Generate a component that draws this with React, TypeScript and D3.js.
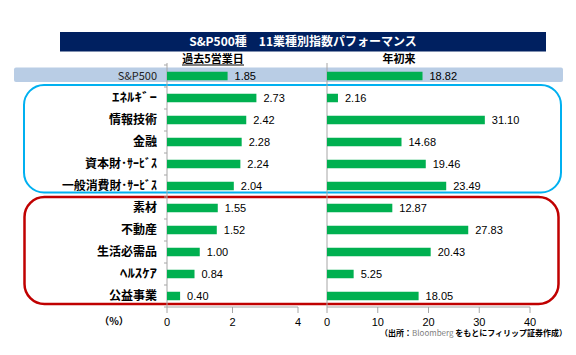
import React from "react";
import * as d3 from "d3";

const categories = ["S&P500", "ｴﾈﾙｷﾞｰ", "情報技術", "金融", "資本財･ｻｰﾋﾞｽ", "一般消費財･ｻｰﾋﾞｽ", "素材", "不動産", "生活必需品", "ﾍﾙｽｹｱ", "公益事業"];
const weekValues = [1.85, 2.73, 2.42, 2.28, 2.24, 2.04, 1.55, 1.52, 1.0, 0.84, 0.4];
const ytdValues = [18.82, 2.16, 31.1, 14.68, 19.46, 23.49, 12.87, 27.83, 20.43, 5.25, 18.05];
const weekTicks = [0, 2, 4];
const ytdTicks = [0, 10, 20, 30, 40];

// rendered widths for labels using half-width katakana (layout only)
const labelWidths: Record<string, number> = {
  "ｴﾈﾙｷﾞｰ": 45,
  "資本財･ｻｰﾋﾞｽ": 72,
  "一般消費財･ｻｰﾋﾞｽ": 95,
  "ﾍﾙｽｹｱ": 37,
};

const W = 576, H = 355;
const JP = "'Noto Sans CJK JP', 'Noto Sans', sans-serif";
const NUM = "'Liberation Sans', Arial, sans-serif";
const GREEN = "#00b050";
const AXIS = "#a6a6a6";

export default function App() {
  const y = d3.scaleBand<string>().domain(categories).range([65, 307]);
  const xL = d3.scaleLinear().domain([0, 4]).range([167, 298]);
  const xR = d3.scaleLinear().domain([0, 40]).range([327, 530]);
  const barH = 8.5;
  const bandBounds = categories.map((c) => y(c)!).concat([307]);

  return (
    <svg width={W} height={H} style={{ position: "absolute", left: 0, top: 0, background: "#fff" }}>
      {/* title */}
      <rect x={60} y={32} width={486} height={19.5} fill="#002060" />
      <text x={303} y={46} textAnchor="middle" fill="#fff" fontFamily={JP} fontWeight="bold" fontSize={12}>
        S&amp;P500種　11業種別指数パフォーマンス
      </text>

      {/* headers */}
      <text x={213} y={63} textAnchor="middle" fontFamily={JP} fontWeight="bold" fontSize={11} fill="#000">
        過去5営業日
      </text>
      <line x1={182} x2={244} y1={65} y2={65} stroke="#000" strokeWidth={1} />
      <text x={399} y={63} textAnchor="middle" fontFamily={JP} fontWeight="bold" fontSize={11} fill="#000">
        年初来
      </text>

      {/* S&P500 background */}
      <rect x={14} y={67.5} width={549} height={14.5} rx={2} fill="#b9cde5" />

      {/* group boxes */}
      <rect x={24} y={85} width={537} height={107.5} rx={20} fill="none" stroke="#00b0f0" strokeWidth={2} />
      <rect x={24.5} y={197} width={534} height={107} rx={20} fill="none" stroke="#c00000" strokeWidth={2.5} />

      {/* axes */}
      <line x1={xL(0)} x2={xL(0)} y1={63} y2={307} stroke={AXIS} />
      {bandBounds.map((b, i) => (
        <line key={"lt" + i} x1={xL(0) - 3} x2={xL(0)} y1={b} y2={b} stroke={AXIS} />
      ))}
      <line x1={xL(0)} x2={xL(4)} y1={307} y2={307} stroke={AXIS} />
      {weekTicks.map((t) => (
        <g key={"wt" + t}>
          <line x1={xL(t)} x2={xL(t)} y1={307} y2={313} stroke={AXIS} />
          <text x={xL(t)} y={326} textAnchor="middle" fontFamily={NUM} fontSize={11} fill="#000">{t}</text>
        </g>
      ))}
      <line x1={xR(0)} x2={xR(0)} y1={63} y2={307} stroke={AXIS} />
      <line x1={xR(0)} x2={xR(40)} y1={307} y2={307} stroke={AXIS} />
      {ytdTicks.map((t) => (
        <g key={"yt" + t}>
          <line x1={xR(t)} x2={xR(t)} y1={307} y2={313} stroke={AXIS} />
          <text x={xR(t)} y={326} textAnchor="middle" fontFamily={NUM} fontSize={11} fill="#000">{t}</text>
        </g>
      ))}

      {/* bars & labels */}
      {categories.map((c, i) => {
        const cy = y(c)! + y.bandwidth() / 2;
        const lw = labelWidths[c];
        return (
          <g key={c}>
            <text
              x={lw ? 157 - lw : 157}
              y={cy + 4}
              textAnchor={lw ? "start" : "end"}
              textLength={lw}
              lengthAdjust={lw ? "spacingAndGlyphs" : undefined}
              fontFamily={JP}
              fontWeight={i === 0 ? "normal" : "bold"}
              fontSize={i === 0 ? 11 : 12}
              fill={i === 0 ? "#222" : "#000"}
            >
              {c}
            </text>
            <rect x={xL(0)} y={cy - barH / 2} width={xL(weekValues[i]) - xL(0)} height={barH} fill={GREEN} />
            <text x={xL(weekValues[i]) + 7} y={cy + 4} fontFamily={NUM} fontSize={11} fill="#000">
              {weekValues[i].toFixed(2)}
            </text>
            <rect x={xR(0)} y={cy - barH / 2} width={xR(ytdValues[i]) - xR(0)} height={barH} fill={GREEN} />
            <text x={xR(ytdValues[i]) + 7} y={cy + 4} fontFamily={NUM} fontSize={11} fill="#000">
              {ytdValues[i].toFixed(2)}
            </text>
          </g>
        );
      })}

      {/* footer */}
      <text x={114} y={325} textAnchor="middle" fontFamily={JP} fontWeight="bold" fontSize={10} fill="#000">（%）</text>
      <text x={380} y={336} fontFamily={JP} fontWeight="bold" fontSize={8} fill="#000">
        （出所：<tspan fill="#7f7f7f" fontWeight="normal">Bloomberg</tspan> をもとにフィリップ証券作成）
      </text>
    </svg>
  );
}
